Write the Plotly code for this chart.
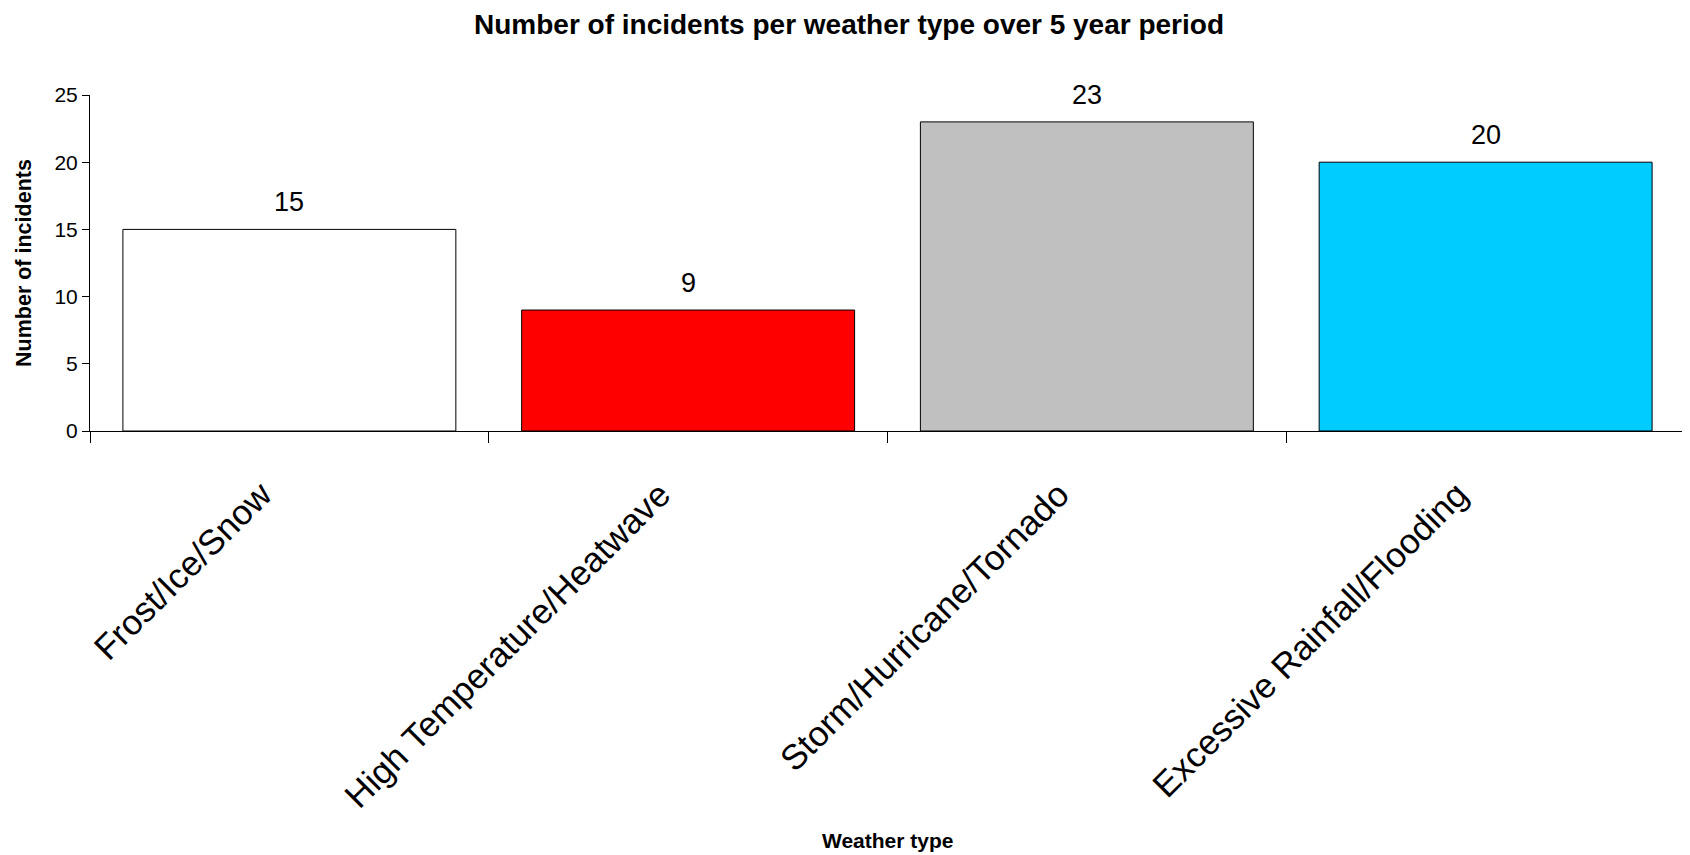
import plotly.graph_objects as go

categories = ["Frost/Ice/Snow", "High Temperature/Heatwave", "Storm/Hurricane/Tornado", "Excessive Rainfall/Flooding"]
incidents = [15, 9, 23, 20]
bar_colors = ["#FFFFFF", "#FF0000", "#C0C0C0", "#00CCFF"]
y_ticks = [0, 5, 10, 15, 20, 25]

FONT = "Liberation Sans, Arial, sans-serif"

fig = go.Figure()
fig.add_trace(go.Bar(
    x=categories, y=incidents,
    marker=dict(color=bar_colors, line=dict(color="black", width=1)),
    hoverinfo="x+y",
))

annotations = []
for c, v in zip(categories, incidents):
    annotations.append(dict(x=c, y=v, xref="x", yref="y", text=str(v), showarrow=False,
                            yanchor="bottom", yshift=10,
                            font=dict(family=FONT, size=27, color="black")))
annotations.append(dict(x=0.5, y=-1.219, xref="paper", yref="paper", text="<b>Weather type</b>",
                        showarrow=False, xanchor="center", yanchor="middle",
                        font=dict(family=FONT, size=21, color="black")))
annotations.append(dict(x=-0.0414, y=0.5, xref="paper", yref="paper", text="<b>Number of incidents</b>",
                        showarrow=False, xanchor="center", yanchor="middle", textangle=-90,
                        font=dict(family=FONT, size=21.5, color="black")))

# page body has an 8px default margin, so the figure is sized to fit the window
fig.update_layout(
    width=1682, height=847,
    margin=dict(l=82, r=5, t=87, b=424),
    paper_bgcolor="white", plot_bgcolor="white",
    bargap=0.165,
    showlegend=False,
    title=dict(text="<b>Number of incidents per weather type over 5 year period</b>",
               x=0.5, xref="container", xanchor="center",
               y=1 - 16 / 847, yref="container", yanchor="middle",
               font=dict(family=FONT, size=28, color="black")),
    annotations=annotations,
    xaxis=dict(showline=True, linecolor="black", linewidth=1, showgrid=False,
               ticks="outside", tickson="boundaries", ticklen=11, tickcolor="black", tickwidth=1,
               tickangle=-45, ticklabelstandoff=28, ticklabelshift=-28,
               tickfont=dict(family=FONT, size=35, color="black")),
    yaxis=dict(range=[0, 25], tickvals=y_ticks, showline=True, linecolor="black", linewidth=1,
               showgrid=False, zeroline=False, ticks="outside", ticklen=7, tickcolor="black",
               tickfont=dict(family=FONT, size=21, color="black")),
)

fig.write_html("out.html")
